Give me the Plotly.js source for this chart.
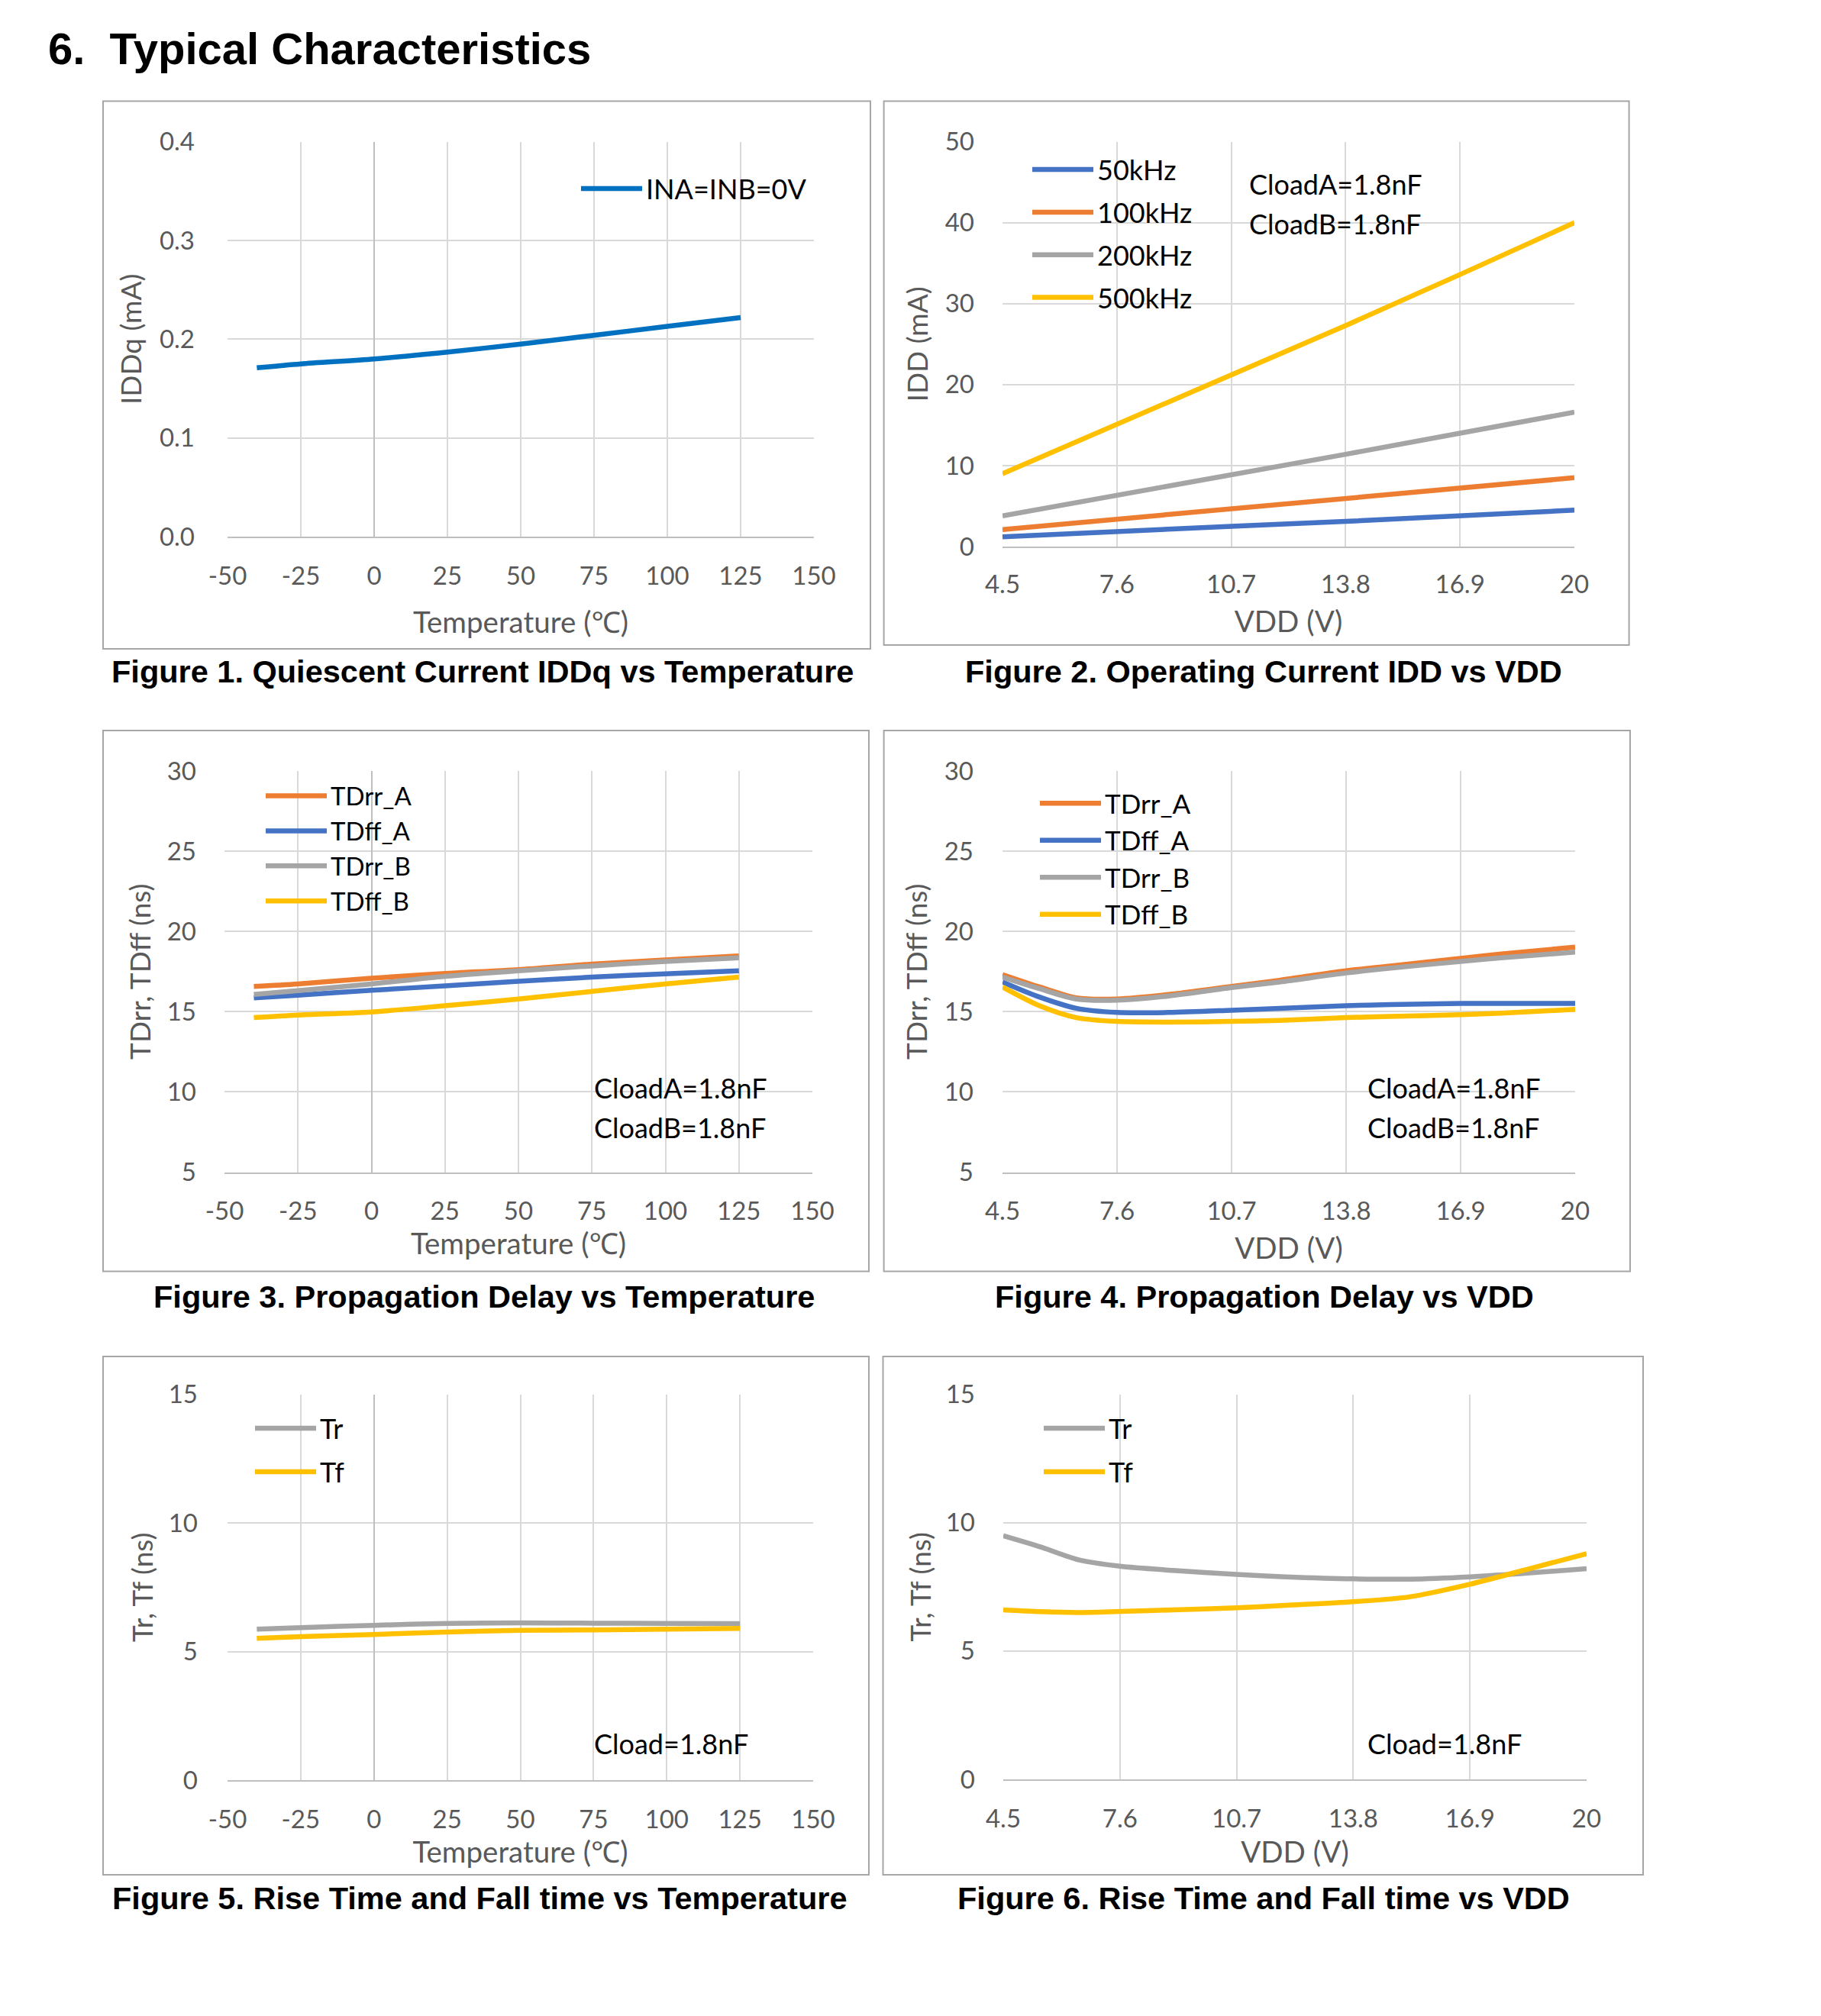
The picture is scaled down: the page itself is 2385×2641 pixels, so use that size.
<!DOCTYPE html>
<html>
<head>
<meta charset="utf-8">
<script src="https://cdn.plot.ly/plotly-3.0.1.min.js"></script>
<style>html,body{margin:0;padding:0;background:#fff;}#chart{width:2385px;height:2641px;}</style>
</head>
<body>
<div id="chart"></div>
<script>
// ---------------- DATA ----------------
const tempX = [-40, -25, 0, 25, 50, 75, 100, 125];
const iddq = [0.171, 0.175, 0.180, 0.187, 0.195, 0.204, 0.213, 0.222];

const vddIdd = [4.5, 7.6, 10.7, 13.8, 16.9, 20];
const idd50k = [1.2, 1.9, 2.5, 3.1, 3.8, 4.5];
const idd100k = [2.1, 3.4, 4.6, 5.9, 7.2, 8.5];
const idd200k = [3.8, 6.3, 8.9, 11.4, 14.0, 16.6];
const idd500k = [9.0, 15.1, 21.1, 27.3, 33.6, 40.0];

const tdrrA_T = [16.57, 16.73, 17.08, 17.38, 17.62, 17.97, 18.22, 18.48];
const tdffA_T = [15.86, 16.03, 16.33, 16.61, 16.89, 17.15, 17.36, 17.55];
const tdrrB_T = [16.07, 16.31, 16.73, 17.20, 17.55, 17.85, 18.13, 18.36];
const tdffB_T = [14.63, 14.79, 14.98, 15.37, 15.79, 16.26, 16.73, 17.15];

const vddTd = [4.5, 5.5, 6.5, 7.6, 9, 10.7, 12, 13.8, 15, 16.9, 18, 20];
const tdrrA_V = [17.31, 16.54, 15.86, 15.79, 16.07, 16.57, 16.96, 17.55, 17.85, 18.32, 18.60, 19.02];
const tdffA_V = [16.85, 15.91, 15.21, 14.95, 14.95, 15.09, 15.21, 15.37, 15.44, 15.51, 15.51, 15.51];
const tdrrB_V = [17.15, 16.43, 15.79, 15.72, 15.98, 16.50, 16.85, 17.41, 17.71, 18.13, 18.36, 18.71];
const tdffB_V = [16.54, 15.37, 14.63, 14.39, 14.35, 14.39, 14.46, 14.63, 14.70, 14.81, 14.91, 15.14];

const tr_T = [5.87, 5.93, 6.02, 6.09, 6.11, 6.10, 6.09, 6.08];
const tf_T = [5.51, 5.58, 5.66, 5.76, 5.82, 5.84, 5.87, 5.90];

const vddTr = [4.5, 5.5, 6.5, 7.6, 9, 10.7, 12, 13.8, 15.3, 16.9, 18.5, 20];
const tr_V = [9.49, 9.05, 8.55, 8.30, 8.14, 7.98, 7.89, 7.81, 7.80, 7.89, 8.04, 8.21];
const tf_V = [6.60, 6.53, 6.50, 6.54, 6.60, 6.68, 6.78, 6.92, 7.11, 7.60, 8.21, 8.79];

const tempTicks = [-50, -25, 0, 25, 50, 75, 100, 125, 150];
const tempTickText = ['-50', '-25', '0', '25', '50', '75', '100', '125', '150'];
const vddTicks = [4.5, 7.6, 10.7, 13.8, 16.9, 20];
const vddTickText = ['4.5', '7.6', '10.7', '13.8', '16.9', '20'];

const tempTitle = 'Temperature (\u2103)';
const vddTitle = 'VDD (V)';
const captions = [
  'Figure 1. Quiescent Current IDDq vs Temperature',
  'Figure 2. Operating Current IDD vs VDD',
  'Figure 3. Propagation Delay vs Temperature',
  'Figure 4. Propagation Delay vs VDD',
  'Figure 5. Rise Time and Fall time vs Temperature',
  'Figure 6. Rise Time and Fall time vs VDD'
];

// ---------------- STYLE ----------------
const W = 2385, H = 2641;
const px = v => v / W;
const py = v => 1 - v / H;
const BLUE = '#4472C4', ORANGE = '#ED7D31', GRAY = '#A5A5A5', GOLD = '#FFC000', DBLUE = '#0070C0';
const FONT = 'Lato, "Noto Sans", sans-serif';
const LW = 6.5;
const ITEMW = 80;

function tr(x, y, name, color, ax, leg, shape) {
  return {x: x, y: y, name: name, type: 'scatter', mode: 'lines',
    line: {color: color, width: LW, shape: shape || 'spline', smoothing: 0.8},
    xaxis: 'x' + ax, yaxis: 'y' + ax, legend: leg, legendgroup: name + ax,
    hoverinfo: 'skip'};
}

const data = [
  tr(tempX, iddq, 'INA=INB=0V', DBLUE, '', 'legend'),
  tr(vddIdd, idd50k, '50kHz', BLUE, '2', 'legend2', 'linear'),
  tr(vddIdd, idd100k, '100kHz', ORANGE, '2', 'legend2', 'linear'),
  tr(vddIdd, idd200k, '200kHz', GRAY, '2', 'legend2', 'linear'),
  tr(vddIdd, idd500k, '500kHz', GOLD, '2', 'legend2', 'linear'),
  tr(tempX, tdrrA_T, 'TDrr_A', ORANGE, '3', 'legend3'),
  tr(tempX, tdffA_T, 'TDff_A', BLUE, '3', 'legend3'),
  tr(tempX, tdrrB_T, 'TDrr_B', GRAY, '3', 'legend3'),
  tr(tempX, tdffB_T, 'TDff_B', GOLD, '3', 'legend3'),
  tr(vddTd, tdrrA_V, 'TDrr_A', ORANGE, '4', 'legend4'),
  tr(vddTd, tdffA_V, 'TDff_A', BLUE, '4', 'legend4'),
  tr(vddTd, tdrrB_V, 'TDrr_B', GRAY, '4', 'legend4'),
  tr(vddTd, tdffB_V, 'TDff_B', GOLD, '4', 'legend4'),
  tr(tempX, tr_T, 'Tr', GRAY, '5', 'legend5'),
  tr(tempX, tf_T, 'Tf', GOLD, '5', 'legend5'),
  tr(vddTr, tr_V, 'Tr', GRAY, '6', 'legend6'),
  tr(vddTr, tf_V, 'Tf', GOLD, '6', 'legend6')
];

// plot areas in pixels [left, right, top, bottom]
const areas = [
  [298, 1066, 185.7, 703],
  [1313, 2062, 185.7, 716],
  [294, 1064, 1010, 1535.5],
  [1313, 2063, 1010, 1535.5],
  [298, 1065, 1826.5, 2332],
  [1314, 2078, 1826.5, 2331]
];
const boxes = [
  [135, 1140, 132.5, 850],
  [1157.6, 2133.6, 132.5, 845],
  [135, 1138, 957, 1665.6],
  [1157.6, 2135, 957, 1665.6],
  [135, 1138, 1777, 2456],
  [1156.5, 2152, 1777, 2456]
];
const yRanges = [[0, 0.4], [0, 50], [5, 30], [5, 30], [0, 15], [0, 15]];
const yDtick = [0.1, 10, 5, 5, 5, 5];
const yTitles = ['IDDq (mA)', 'IDD (mA)', 'TDrr, TDff (ns)', 'TDrr, TDff (ns)', 'Tr, Tf (ns)', 'Tr, Tf (ns)'];
const xStand = [30, 18, 12, 18, 0, 13];
const xLabStand = [21, 19, 21, 21, 21, 21];
const yLabStand = [42, 36, 36, 37, 38, 36];
const yStand = [11, 10, 9, 10, 8, 7];

const layout = {
  width: W, height: H,
  margin: {l: 0, r: 0, t: 0, b: 0},
  paper_bgcolor: '#ffffff', plot_bgcolor: 'rgba(0,0,0,0)',
  showlegend: true,
  font: {family: FONT, color: '#595959'},
  shapes: [], annotations: []
};

for (let i = 0; i < 6; i++) {
  const s = i === 0 ? '' : String(i + 1);
  const a = areas[i];
  const isTemp = (i % 2 === 0);
  layout['xaxis' + s] = {
    domain: [px(a[0]), px(a[1])],
    anchor: 'y' + s,
    range: isTemp ? [-50, 150] : [4.5, 20],
    tickmode: 'array',
    tickvals: isTemp ? tempTicks : vddTicks,
    ticktext: isTemp ? tempTickText : vddTickText,
    showgrid: true, gridcolor: '#D9D9D9', gridwidth: 2,
    zeroline: isTemp, zerolinecolor: '#BFBFBF', zerolinewidth: 2,
    showline: true, linecolor: '#BFBFBF', linewidth: 2,
    ticks: '', ticklabelstandoff: xLabStand[i],
    tickfont: {family: FONT, size: 33, color: '#595959'},
    title: {text: isTemp ? tempTitle : vddTitle, font: {family: FONT, size: 38.5, color: '#595959'}, standoff: xStand[i]},
    fixedrange: true
  };
  layout['yaxis' + s] = {
    domain: [py(a[3]), py(a[2])],
    anchor: 'x' + s,
    range: yRanges[i], tickmode: 'linear', tick0: 0, dtick: yDtick[i],
    tickformat: i === 0 ? '.1f' : '',
    showgrid: true, gridcolor: '#D9D9D9', gridwidth: 2,
    zeroline: false, showline: false,
    ticks: '', ticklabelstandoff: yLabStand[i],
    tickfont: {family: FONT, size: 33, color: '#595959'},
    title: {text: yTitles[i], font: {family: FONT, size: 37, color: '#595959'}, standoff: yStand[i]},
    fixedrange: true
  };
  const b = boxes[i];
  layout.shapes.push({type: 'rect', xref: 'paper', yref: 'paper',
    x0: px(b[0]), x1: px(b[1]), y0: py(b[3]), y1: py(b[2]),
    line: {color: '#A6A6A6', width: 2}, fillcolor: 'rgba(0,0,0,0)', layer: 'above'});
}

// legends: [textLeft px, firstCenter px, font size, gap]
const legSpec = [
  [846, 246, 36, 0],
  [1437, 221, 36, 6],
  [433, 1041, 33, 0],
  [1447, 1051, 35, 0],
  [419, 1870, 36, 7],
  [1452, 1870, 36, 7]
];
legSpec.forEach((l, i) => {
  const key = i === 0 ? 'legend' : 'legend' + (i + 1);
  layout[key] = {
    x: px(l[0] - ITEMW - 10), y: py(l[1] - l[2] * 0.8), xanchor: 'left', yanchor: 'top',
    bgcolor: 'rgba(0,0,0,0)', borderwidth: 0,
    font: {family: FONT, size: l[2], color: '#000000'},
    traceorder: 'grouped', tracegroupgap: l[3], itemwidth: ITEMW,
    itemclick: false, itemdoubleclick: false
  };
});

// white text boxes for condition notes
const noteBoxes = [
  [1602, 1902, 200, 339],
  [746, 1048, 1377, 1522],
  [1757, 2060, 1382, 1522],
  [746, 1048, 2239, 2330],
  [1757, 2060, 2239, 2330]
];
noteBoxes.forEach(b => layout.shapes.push({type: 'rect', xref: 'paper', yref: 'paper',
  x0: px(b[0]), x1: px(b[1]), y0: py(b[3]), y1: py(b[2]),
  line: {width: 0}, fillcolor: '#ffffff', layer: 'between'}));

const notes = [
  ['CloadA=1.8nF', 1634, 241], ['CloadB=1.8nF', 1634, 293],
  ['CloadA=1.8nF', 776, 1425], ['CloadB=1.8nF', 776, 1477],
  ['CloadA=1.8nF', 1789, 1425], ['CloadB=1.8nF', 1789, 1477],
  ['Cload=1.8nF', 776, 2284], ['Cload=1.8nF', 1789, 2284]
];
notes.forEach(n => layout.annotations.push({text: n[0], xref: 'paper', yref: 'paper',
  x: px(n[1]), y: py(n[2]), xanchor: 'left', yanchor: 'middle', showarrow: false,
  font: {family: FONT, size: 36, color: '#000000'}}));

// captions
const capPos = [[632, 879], [1655, 879], [634, 1698], [1656, 1698], [628, 2486], [1655, 2486]];
captions.forEach((c, i) => layout.annotations.push({text: '<b>' + c + '</b>', xref: 'paper', yref: 'paper',
  x: px(capPos[i][0]), y: py(capPos[i][1]), xanchor: 'center', yanchor: 'middle', showarrow: false,
  font: {family: '"Liberation Sans", Arial, sans-serif', size: 41.5, color: '#000000'}}));

// heading
layout.annotations.push({text: '<b>6.\u00A0\u00A0Typical Characteristics</b>', xref: 'paper', yref: 'paper',
  x: px(61), y: py(64), xanchor: 'left', yanchor: 'middle', showarrow: false,
  font: {family: '"Liberation Sans", Arial, sans-serif', size: 58, color: '#000000'}});

Plotly.newPlot('chart', data, layout, {staticPlot: true, displayModeBar: false});
</script>
</body>
</html>
